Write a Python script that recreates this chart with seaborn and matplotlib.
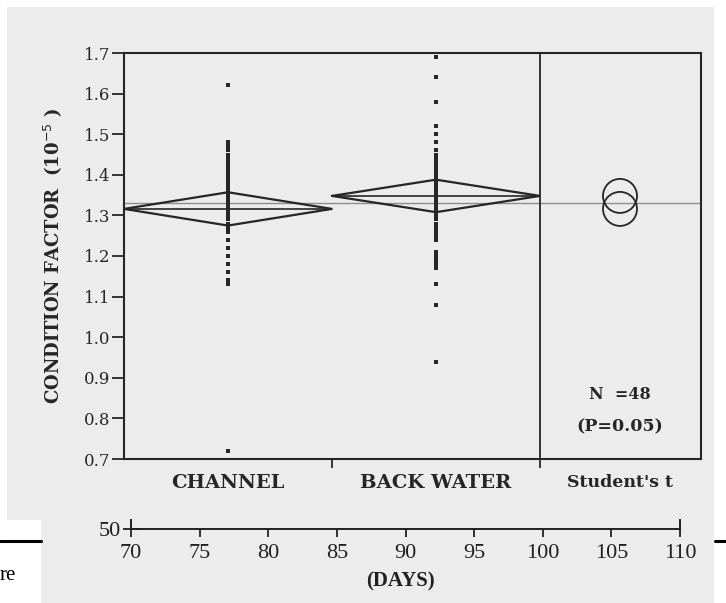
import numpy as np
import pandas as pd
import matplotlib
matplotlib.use("Agg")
import matplotlib.pyplot as plt
from matplotlib.patches import Polygon
import seaborn as sns

# ---------------- data ----------------
groups = ["CHANNEL", "BACK WATER"]
channel_values = [1.62, 1.48, 1.47, 1.46, 1.45, 1.44, 1.43, 1.42, 1.41, 1.40,
                  1.39, 1.38, 1.37, 1.36, 1.35, 1.34, 1.33, 1.32, 1.31, 1.30,
                  1.29, 1.28, 1.27, 1.26, 1.24, 1.22, 1.20, 1.18, 1.16, 1.14,
                  1.13, 0.72]
backwater_values = [1.69, 1.64, 1.58, 1.52, 1.50, 1.48, 1.46, 1.45, 1.44, 1.43,
                    1.42, 1.41, 1.40, 1.39, 1.38, 1.37, 1.36, 1.35, 1.34, 1.33,
                    1.32, 1.31, 1.30, 1.29, 1.28, 1.27, 1.26, 1.25, 1.24, 1.21,
                    1.20, 1.19, 1.18, 1.17, 1.13, 1.08, 0.94]
group_means = [1.316, 1.348]
ci_half = [0.041, 0.040]
grand_mean = 1.331
circle_centers = [1.348, 1.316]
y_ticks = [0.7, 0.8, 0.9, 1.0, 1.1, 1.2, 1.3, 1.4, 1.5, 1.6, 1.7]
day_ticks = [70, 75, 80, 85, 90, 95, 100, 105, 110]
panel_label = "Student's t"
n_text = "N  =48"
p_text = "(P=0.05)"

df = pd.DataFrame({
    "group": ["CHANNEL"] * len(channel_values) + ["BACK WATER"] * len(backwater_values),
    "value": channel_values + backwater_values,
})

# ---------------- style ----------------
sns.set_style("ticks")
plt.rcParams["font.family"] = ["DejaVu Serif", "DejaVu Sans"]

W, H = 726, 603
fig = plt.figure(figsize=(W / 100, H / 100), dpi=100)
fig.patch.set_facecolor("white")

def fx(x):
    return x / W

def fy(y):
    return 1 - y / H

# scanned page background
bg = Polygon([(fx(7), fy(7)), (fx(714), fy(7)), (fx(714), fy(603)),
              (fx(41), fy(603)), (fx(41), fy(520)), (fx(7), fy(520))],
             closed=True, transform=fig.transFigure, facecolor="#ececec",
             edgecolor="none", zorder=-10)
fig.patches.append(bg)

ink = "#262626"

# ---------------- main axes ----------------
ax = fig.add_axes([fx(124), fy(459), (701 - 124) / W, (459 - 53) / H])
ax.set_facecolor("none")
sns.stripplot(data=df, x="group", y="value", order=groups, jitter=False,
              color=ink, marker="s", size=2.4, linewidth=0, ax=ax, zorder=3)

px_per_unit = 208.0
ax.set_xlim(-0.5, -0.5 + (701 - 124) / px_per_unit)
ax.set_ylim(0.7, 1.7)

# grand mean line
ax.axhline(grand_mean, color="#8c8c8c", lw=1.0, zorder=1)

# means diamonds
for i, (m, h) in enumerate(zip(group_means, ci_half)):
    ax.plot([i - 0.5, i, i + 0.5, i, i - 0.5], [m, m + h, m, m - h, m],
            color=ink, lw=1.6, zorder=4, solid_joinstyle="miter")
    ax.plot([i - 0.5, i + 0.5], [m, m], color=ink, lw=1.2, zorder=4)

# divider for the comparison panel
ax.axvline(1.5, color=ink, lw=1.3, zorder=2)

# comparison circles
circle_x = 1.5 + (620 - 540) / px_per_unit
ax.scatter([circle_x] * len(circle_centers), circle_centers, s=600,
           facecolors="none", edgecolors=ink, linewidths=1.3, zorder=5)

ax.text(circle_x, 0.858, n_text, ha="center", va="center", fontsize=11.5,
        fontweight="bold", color=ink)
ax.text(circle_x, 0.779, p_text, ha="center", va="center", fontsize=12.5,
        fontweight="bold", color=ink)

# ticks
ax.set_yticks(y_ticks)
ax.set_yticklabels([f"{v:.1f}" for v in y_ticks], fontsize=12, color=ink)
ax.tick_params(axis="y", direction="out", length=8.5, width=1.3, pad=1.5,
               colors=ink)

ax.set_xticks([0.5, 1.5])
ax.set_xticklabels(["", ""])
ax.tick_params(axis="x", which="major", direction="out", length=6.5,
               width=1.3, colors=ink)
ax.set_xticks([0, 1, circle_x], minor=True)
ax.set_xticklabels(groups + [panel_label], minor=True)
ax.tick_params(axis="x", which="minor", length=0, pad=11)
for lab in ax.get_xticklabels(minor=True):
    lab.set_fontweight("bold")
    lab.set_color(ink)
    lab.set_fontsize(14 if lab.get_text() != panel_label else 12.5)

ax.set_xlabel("")
ax.set_ylabel("CONDITION FACTOR  (10$^{-5}$ )", fontsize=13,
              fontweight="bold", color=ink, labelpad=14)

for s in ax.spines.values():
    s.set_visible(True)
    s.set_linewidth(1.5)
    s.set_color(ink)

# ---------------- days axis ----------------
ax3 = fig.add_axes([fx(131), fy(529), (680 - 131) / W, 9 / H])
ax3.set_facecolor("none")
ax3.set_xlim(70, 110)
ax3.set_ylim(50, 51)
ax3.set_xticks(day_ticks)
ax3.set_xticklabels([str(d) for d in day_ticks], fontsize=16,
                    family="Liberation Serif", color="#202020")
ax3.tick_params(axis="x", direction="out", length=6, width=1.3, pad=5,
                colors="#202020")
ax3.set_yticks([50])
ax3.set_yticklabels(["50"], fontsize=16, family="Liberation Serif",
                    color="#202020")
ax3.tick_params(axis="y", direction="inout", length=12, width=1.3, pad=1,
                colors="#202020")
ax3.spines["top"].set_visible(False)
for k in ["left", "right", "bottom"]:
    ax3.spines[k].set_linewidth(1.4)
    ax3.spines[k].set_color("#202020")

fig.text(fx(400), fy(581), "(DAYS)", ha="center", va="center", fontsize=15,
         fontweight="bold", family="Liberation Serif", color="#202020")

# page fragments outside the scan
fig.add_artist(plt.Line2D([fx(0), fx(41)], [fy(541), fy(541)], color="black",
                          lw=2.2, transform=fig.transFigure))
fig.add_artist(plt.Line2D([fx(715), fx(726)], [fy(541), fy(541)],
                          color="black", lw=2.2, transform=fig.transFigure))
fig.text(fx(0), fy(575), "re", ha="left", va="center", fontsize=15,
         family="Liberation Serif", color="black")

fig.savefig("out.png", dpi=100, facecolor=fig.get_facecolor())
